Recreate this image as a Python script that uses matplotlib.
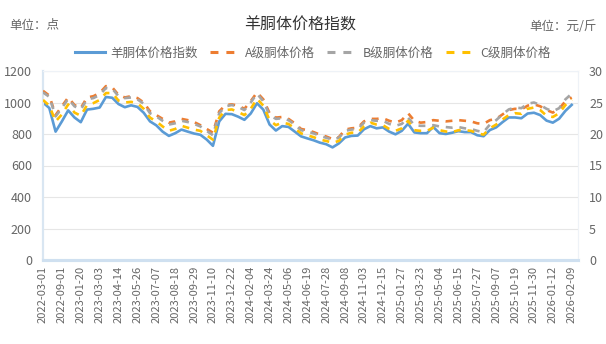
import matplotlib
matplotlib.use("Agg")
import matplotlib.pyplot as plt
from matplotlib.lines import Line2D

plt.rcParams['font.family'] = ['Noto Sans CJK SC', 'DejaVu Sans']

tick_labels = ["2022-03-01", "2022-09-01", "2023-01-20", "2023-03-03", "2023-04-14",
               "2023-05-26", "2023-07-07", "2023-08-18", "2023-09-29", "2023-11-10",
               "2023-12-22", "2024-02-04", "2024-03-24", "2024-05-06", "2024-06-19",
               "2024-07-28", "2024-09-08", "2024-11-03", "2024-12-15", "2025-01-27",
               "2025-03-23", "2025-05-04", "2025-06-15", "2025-07-27", "2025-09-07",
               "2025-10-19", "2025-11-30", "2026-01-12", "2026-02-09"]

index_values = [1000, 965, 815, 880, 950, 905, 875, 955, 960, 968,
                1035, 1030, 990, 970, 982, 972, 935, 880, 855, 815,
                788, 805, 828, 815, 803, 795, 765, 725, 880, 928,
                926, 910, 890, 930, 995, 955, 860, 822, 850, 845,
                815, 785, 772, 760, 745, 735, 715, 740, 778, 788,
                790, 830, 850, 836, 842, 815, 798, 820, 865, 810,
                805, 805, 845, 805, 800, 808, 818, 812, 812, 792,
                786, 825, 842, 875, 905, 905, 900, 930, 935, 920,
                885, 872, 897, 947, 985]

grade_a = [26.85, 26.1, 23.0, 24.4, 25.8, 24.6, 24.1, 25.8, 26.0, 26.5,
           27.6, 27.4, 26.2, 25.8, 26.0, 25.7, 25.0, 23.6, 23.0, 22.4,
           21.8, 22.0, 22.4, 22.2, 21.9, 21.4, 20.8, 20.2, 23.6, 24.6,
           24.7, 24.5, 24.0, 25.2, 26.6, 25.5, 23.3, 22.6, 22.7, 22.4,
           21.7, 20.8, 20.6, 20.3, 19.9, 19.6, 19.2, 19.5, 20.7, 20.9,
           21.0, 22.0, 22.4, 22.4, 22.5, 22.1, 21.8, 22.2, 23.3, 22.1,
           21.8, 21.9, 22.2, 22.1, 22.0, 22.1, 22.2, 22.1, 22.0, 21.7,
           21.6, 22.2, 22.4, 23.1, 23.8, 24.0, 23.9, 24.5, 24.7, 24.4,
           23.8, 23.4, 24.0, 25.2, 25.8]

grade_b = [26.6, 25.9, 22.8, 24.1, 25.6, 24.4, 23.9, 25.5, 25.7, 26.2,
           27.3, 27.2, 26.0, 25.7, 25.8, 25.5, 24.8, 23.3, 22.8, 22.1,
           21.5, 21.7, 22.1, 21.9, 21.6, 21.2, 20.5, 19.8, 23.3, 24.4,
           24.6, 24.3, 23.8, 25.0, 26.4, 25.2, 23.0, 22.4, 22.5, 22.2,
           21.5, 20.6, 20.4, 20.1, 19.7, 19.4, 19.1, 19.4, 20.5, 20.7,
           20.8, 21.8, 22.2, 22.1, 22.1, 21.6, 21.3, 21.6, 22.6, 21.4,
           21.3, 21.3, 21.4, 21.2, 21.1, 21.0, 21.1, 20.9, 20.8, 20.5,
           20.3, 21.5, 22.2, 23.1, 23.9, 24.2, 24.1, 24.8, 25.0, 24.6,
           24.0, 23.6, 24.1, 25.5, 26.4]

grade_c = [25.4, 24.5, 22.0, 23.1, 24.7, 23.4, 22.9, 24.6, 24.9, 25.4,
           26.5, 26.5, 25.3, 25.0, 25.1, 24.9, 24.0, 22.6, 22.0, 21.2,
           20.5, 20.8, 21.3, 21.0, 20.7, 20.5, 19.8, 19.1, 22.6, 23.8,
           23.9, 23.5, 23.0, 24.0, 25.6, 24.5, 22.2, 21.4, 21.8, 21.6,
           20.9, 20.1, 19.8, 19.5, 19.1, 18.9, 18.6, 18.9, 19.9, 20.2,
           20.2, 21.2, 21.8, 21.5, 21.4, 20.8, 20.5, 20.9, 22.1, 20.6,
           20.5, 20.5, 21.0, 20.6, 20.4, 20.3, 20.6, 20.6, 20.5, 20.1,
           19.9, 20.9, 21.5, 22.3, 23.0, 23.3, 23.2, 24.0, 24.2, 23.8,
           22.9, 22.7, 23.3, 24.6, 25.5]

series_names = ["羊胴体价格指数", "A级胴体价格", "B级胴体价格", "C级胴体价格"]
colors = ["#5B9BD5", "#ED7D31", "#A5A5A5", "#FFC000"]

W, H = 606, 344
fig = plt.figure(figsize=(W / 100, H / 100), dpi=100)
x0, x1, y0, y1 = 43, 578, 71, 260
ax = fig.add_axes([x0 / W, 1 - y1 / H, (x1 - x0) / W, (y1 - y0) / H])
ax2 = ax.twinx()

xs = list(range(len(index_values)))
step = 3
ax.plot(xs, index_values, color=colors[0], lw=1.9, solid_joinstyle='round', zorder=3)
for vals, c in zip([grade_a, grade_b, grade_c], colors[1:]):
    ax2.plot(xs, vals, color=c, lw=1.9, linestyle=(0, (2.6, 2.6)), zorder=3)

ax.set_xlim(0, len(index_values))
ax.set_ylim(0, 1200)
ax.set_yticks(range(0, 1201, 200))
ax2.set_ylim(0, 30)
ax2.set_yticks(range(0, 31, 5))
ax.set_xticks([i * step for i in range(len(tick_labels))])
ax.set_xticklabels(tick_labels, rotation=90, fontsize=8, color="#666666")

ax.grid(axis='y', color="#E6E6E6", lw=0.8)
ax.set_axisbelow(True)
ax.tick_params(axis='both', length=0)
ax.tick_params(axis='x', pad=4)
ax.tick_params(axis='y', labelsize=9, labelcolor="#666666", pad=8)
ax2.tick_params(axis='y', length=0, labelsize=9, labelcolor="#666666", pad=8)

for a in (ax, ax2):
    for s in ['top', 'right']:
        a.spines[s].set_color("#EEF2F7")
        a.spines[s].set_linewidth(0.8)
    a.spines['left'].set_color("#D9E6F2")
    a.spines['left'].set_linewidth(1.5)
    a.spines['bottom'].set_color("#CFE0F0")
    a.spines['bottom'].set_linewidth(2.2)

fig.text(300 / W, 1 - 25 / H, "羊胴体价格指数", ha='center', va='center', fontsize=11.5, color="#333333")
fig.text(9 / W, 1 - 26 / H, "单位：点", ha='left', va='center', fontsize=9, color="#666666")
fig.text(597 / W, 1 - 26 / H, "单位：元/斤", ha='right', va='center', fontsize=9, color="#666666")

handles = [Line2D([], [], color=colors[0], lw=2.2)]
for c in colors[1:]:
    handles.append(Line2D([], [], color=c, lw=2.2, linestyle=(0, (2.6, 2.6))))
fig.legend(handles, series_names, loc='center', bbox_to_anchor=(313 / W, 1 - 53 / H),
           ncol=4, frameon=False, fontsize=9, handlelength=2.4, handletextpad=0.4,
           columnspacing=1.0, labelcolor="#666666")

fig.savefig("out.png", dpi=100, facecolor="white")
